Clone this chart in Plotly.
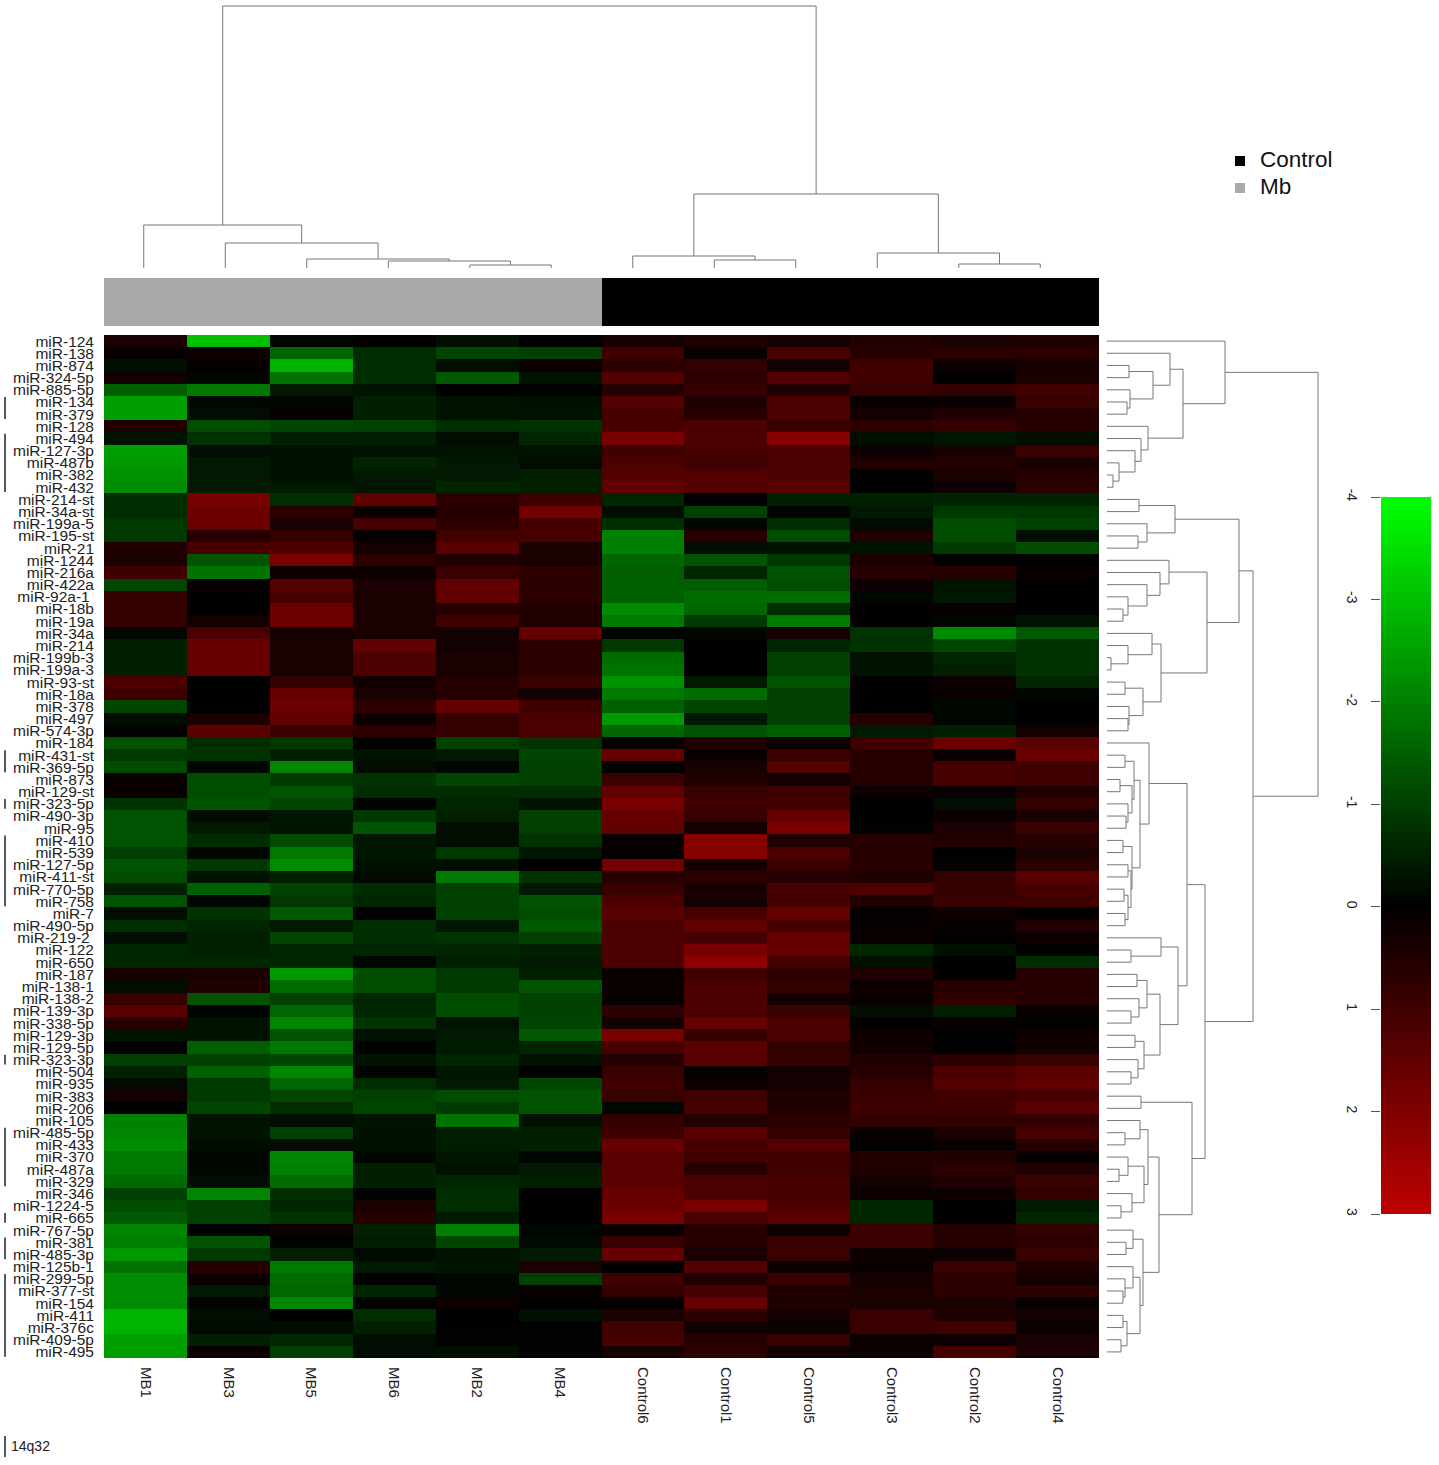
import numpy as np
import plotly.graph_objects as go

W, H = 1439, 1465

samples = ["MB1", "MB3", "MB5", "MB6", "MB2", "MB4",
           "Control6", "Control1", "Control5", "Control3", "Control2", "Control4"]
sample_group = [1, 1, 1, 1, 1, 1, 0, 0, 0, 0, 0, 0]  # 1 = Mb, 0 = Control
group_names = ["Control", "Mb"]
group_colors = ["#000000", "#a9a9a9"]

mirnas = ["miR-124", "miR-138", "miR-874", "miR-324-5p", "miR-885-5p", "miR-134", "miR-379",
          "miR-128", "miR-494", "miR-127-3p", "miR-487b", "miR-382", "miR-432", "miR-214-st",
          "miR-34a-st", "miR-199a-5", "miR-195-st", "miR-21", "miR-1244", "miR-216a", "miR-422a",
          "miR-92a-1\u00a0", "miR-18b", "miR-19a", "miR-34a", "miR-214", "miR-199b-3", "miR-199a-3",
          "miR-93-st", "miR-18a", "miR-378", "miR-497", "miR-574-3p", "miR-184", "miR-431-st",
          "miR-369-5p", "miR-873", "miR-129-st", "miR-323-5p", "miR-490-3p", "miR-95", "miR-410",
          "miR-539", "miR-127-5p", "miR-411-st", "miR-770-5p", "miR-758", "miR-7", "miR-490-5p",
          "miR-219-2\u00a0", "miR-122", "miR-650", "miR-187", "miR-138-1", "miR-138-2", "miR-139-3p",
          "miR-338-5p", "miR-129-3p", "miR-129-5p", "miR-323-3p", "miR-504", "miR-935", "miR-383",
          "miR-206", "miR-105", "miR-485-5p", "miR-433", "miR-370", "miR-487a", "miR-329", "miR-346",
          "miR-1224-5", "miR-665", "miR-767-5p", "miR-381", "miR-485-3p", "miR-125b-1", "miR-299-5p",
          "miR-377-st", "miR-154", "miR-411", "miR-376c", "miR-409-5p", "miR-495"]

# expression, one block per big row cluster
block_a = [
    [.4, -3.0, -.1, .05, -.25, 0, .35, .45, .3, .5, .4, .45],
    [.1, .2, -1.6, -.7, -1.1, -1.0, 1.0, .15, 1.1, .6, .7, .7],
    [-.25, .1, -2.8, -.7, -.2, .2, .7, .8, .3, 1.0, .2, .35],
    [.3, -.1, -1.8, -.7, -1.4, -.3, 1.3, .7, 1.25, 1.0, 0, .4],
    [-1.5, -1.9, -.4, -.3, 0, -.05, .6, .85, .5, .9, .8, 1.0],
    [-2.5, -.1, -.1, -.5, -.3, -.25, 1.3, .5, 1.2, .15, .15, .9],
    [-2.5, -.2, .1, -.5, -.3, -.3, 1.1, .6, 1.2, .3, .5, .6],
    [.5, -1.2, -1.1, -1.0, -.7, -.8, 1.1, 1.2, .9, .7, .8, .6],
    [-.3, -.8, -.5, -.5, -.2, -.6, 1.9, 1.2, 2.1, -.2, -.35, -.2],
    [-2.5, -.2, -.25, -.3, -.3, -.3, 1.0, 1.1, 1.2, .2, .35, .9],
    [-2.4, -.4, -.2, -.55, -.4, -.2, 1.2, 1.0, 1.2, .5, .6, .4],
    [-2.3, -.4, -.25, -.4, -.4, -.5, 1.3, 1.3, 1.2, .05, .4, .6],
    [-2.2, -.4, -.4, -.35, -.6, -.5, 1.5, 1.3, 1.4, 0, .2, .7],
]
block_b = [
    [-.7, 1.9, -.7, 1.5, .7, 1.0, -.6, 0, -.5, -.5, -.55, -.55],
    [-.7, 1.7, .7, .15, .6, 1.8, -.2, -1.0, -.1, -.4, -.9, -.9],
    [-.9, 1.7, .4, 1.1, .7, 1.1, -.7, -.1, -.7, -.15, -1.2, -1.0],
    [-.9, .6, .8, .1, 1.0, 1.1, -2.0, .6, -1.2, .5, -1.2, -.2],
    [.5, 1.1, 1.2, .3, 1.4, .4, -2.0, -.2, -.3, -.3, -.9, -1.2],
    [.4, -1.3, 1.9, .7, .5, .4, -1.6, -1.3, -.9, .4, -.05, 0],
    [1.0, -1.8, .2, .2, .9, .7, -1.5, -.6, -1.3, .6, .6, .15],
    [-1.1, .1, 1.3, .4, 1.5, .7, -1.5, -1.5, -1.2, .2, -.3, .02],
    [.8, 0, 1.1, .4, 1.5, .7, -1.5, -1.7, -1.7, -.1, -.35, .02],
    [.8, 0, 1.7, .4, .6, .5, -2.2, -1.6, -.7, .05, .1, .02],
    [.8, .3, 1.7, .4, 1.0, .5, -1.9, -.9, -1.9, .05, -.1, -.3],
    [-.1, 1.2, .3, .4, .3, 1.6, -.05, -.1, .35, -.8, -2.2, -1.4],
    [-.5, 1.6, .4, 1.5, .3, .7, -.9, 0, -.6, -.8, -1.1, -.8],
    [-.5, 1.6, .4, 1.2, .4, .7, -1.7, 0, -1.0, -.3, -.6, -.8],
    [-.5, 1.6, .4, 1.2, .4, .7, -1.8, 0, -1.0, -.3, -.5, -.8],
    [1.2, 0, .8, .25, .6, .9, -2.3, -.4, -1.3, .05, .2, -.6],
    [1.0, 0, 1.6, .4, .6, .3, -1.9, -1.7, -1.0, .05, .15, -.1],
    [-1.1, 0, 1.7, .7, 1.6, 1.0, -1.5, -1.1, -1.0, .05, -.1, 0],
    [-.2, .4, 1.5, .2, .8, 1.2, -2.4, -.4, -1.0, .6, -.1, 0],
    [-.05, 1.4, .9, .7, .8, 1.2, -1.6, -1.3, -1.5, -.4, -.5, .3],
]
block_c = [
    [-1.3, -.7, -.9, 0, -1.0, -.8, .1, .5, .2, 1.0, 1.7, 1.4],
    [-.9, -.8, -.5, -.3, -.4, -1.1, 1.6, .15, .9, .6, .15, 1.7],
    [-1.2, -.1, -2.1, -.2, -.1, -1.0, 0, .4, 1.3, .6, 1.1, 1.0],
    [.15, -1.2, -.9, -.8, -1.1, -1.0, .9, .5, .3, .6, 1.1, 1.0],
    [.15, -1.2, -1.3, -.7, -.7, -.7, 1.5, .9, 1.0, .2, .1, .5],
    [-.8, -1.3, -1.1, -.05, -.6, -.3, 1.9, 1.0, 1.0, 0, -.2, .8],
    [-1.3, -.2, -.35, -.9, -.5, -1.0, 1.6, .9, 1.6, 0, .15, .4],
    [-1.3, -.4, -.3, -1.3, -.2, -1.0, 1.5, .3, 1.9, -.05, .4, .9],
    [-1.3, -.7, -1.2, -.35, -.2, -.8, .1, 2.1, .5, .6, .55, .6],
    [-1.0, -.1, -1.9, -.35, -.9, -.35, .1, 2.1, 1.2, .6, 0, .4],
    [-1.3, -.9, -2.2, -.25, -.25, 0, 1.8, .3, .9, .6, .1, .7],
    [-1.2, -.3, -.5, -.15, -1.9, -.8, .6, .7, .6, .5, .8, 1.4],
    [-.5, -1.5, -1.0, -.7, -1.0, -.4, .9, .4, 1.1, 1.2, .8, 1.1],
    [-1.3, -.1, -.9, -.6, -1.0, -1.3, 1.2, .3, 1.1, .5, .9, 1.0],
    [-.2, -.8, -1.4, .05, -1.0, -1.2, 1.4, 1.1, 1.6, .1, .2, .05],
    [-.7, -.6, -.4, -.7, -.35, -1.4, 1.2, 1.5, 1.1, .1, .1, .5],
]
block_d = [
    [-.2, -.5, -1.1, -.7, -.8, -1.0, 1.2, 1.1, 1.6, .15, .05, .2],
    [-.6, -.5, -.6, -.6, -.6, -.5, 1.2, 1.9, 1.6, -.6, -.25, .05],
    [-.6, -.6, -.6, -.1, -.5, -.4, 1.2, 2.2, 1.1, -.25, 0, -.7],
    [.35, .4, -2.4, -1.2, -.9, -.5, .15, 1.0, .7, .5, 0, .6],
    [-.2, .5, -1.7, -1.2, -.9, -1.3, .15, 1.2, .8, .2, .6, .6],
    [.9, -1.3, -1.0, -.6, -1.2, -1.0, .1, 1.2, .3, .15, .8, .6],
    [1.4, -.05, -1.6, -.6, -1.2, -1.0, .7, 1.2, .9, -.2, -.5, .15],
    [.6, -.3, -2.1, -.8, -.3, -1.1, .3, 1.6, 1.2, .07, .1, .05],
    [-.3, -.3, -1.3, -.3, -.4, -1.4, 1.9, .8, 1.2, .25, 0, .25],
    [0, -1.5, -1.9, -.05, -.4, -.6, 1.1, 1.4, .8, .25, 0, .25],
    [-1.0, -1.0, -1.1, -.3, -.6, -.3, .6, 1.4, .8, .5, .7, .9],
    [-.5, -1.5, -2.1, -.05, -.35, 0, .9, .1, .3, .6, 1.2, 1.4],
    [-.15, -.9, -1.6, -.7, -.4, -1.1, 1.0, .2, .3, .8, 1.3, 1.5],
]
block_e = [
    [.3, -.9, -1.1, -1.0, -1.2, -1.3, .9, 1.0, .5, .9, 1.0, 1.1],
    [0, -1.1, -.7, -1.1, -.9, -1.3, -.1, 1.1, .5, 1.0, 1.0, 1.4],
    [-2.0, -.3, -.2, -.3, -1.8, -.3, .8, .6, .7, .8, .8, .8],
    [-2.1, -.3, -1.0, -.25, -.45, -.5, 1.0, 1.4, .8, .15, .4, 1.1],
    [-2.2, -.2, -.2, -.25, -.45, -.5, 1.6, 1.1, 1.3, 0, .15, .6],
    [-1.9, -.1, -2.1, -.1, -.35, -.1, 1.4, 1.0, 1.0, .5, .5, .1],
    [-1.9, -.1, -2.0, -.5, -.25, -.4, 1.4, .6, 1.0, .5, .7, .5],
    [-1.7, -.2, -1.7, -.5, -.6, -.5, 1.4, 1.2, 1.1, .3, .5, .9],
    [-1.0, -2.1, -.7, -.05, -.7, -.02, 1.6, 1.2, 1.1, .2, .2, .8],
    [-1.2, -1.0, -.6, .4, -.7, 0, 1.7, 1.9, 1.2, -.6, 0, -.4],
    [-1.4, -1.0, -.8, .6, -.4, 0, 1.9, 1.2, 1.4, -.6, 0, -.6],
    [-2.1, -.02, .2, -.5, -2.0, -.1, .15, .6, .2, .9, .6, .8],
    [-2.0, -1.3, -.05, -.45, -1.1, -.15, .9, .6, .9, .9, .6, .7],
    [-2.4, -.9, -.5, -.15, -.3, -.4, 1.6, .4, .9, .2, .2, .9],
    [-1.8, .6, -1.9, -.4, -.3, .4, 0, 1.3, .2, .15, .9, .5],
    [-2.2, .15, -1.7, -.02, -.1, -1.0, 1.0, .5, .9, .3, .7, .3],
    [-2.2, -.4, -1.6, -.6, -.1, .1, .8, 1.1, .5, .4, .7, .7],
    [-2.2, -.05, -2.1, -.07, .2, .02, .07, 1.6, .5, .4, .4, .1],
    [-2.8, -.2, .02, -.7, -.02, -.25, .4, .7, .3, .9, .5, .3],
    [-2.8, -.15, -.2, -.5, -.02, -.02, 1.0, .25, .2, .9, 1.0, .15],
    [-2.5, -.5, -.6, -.2, -.05, -.05, 1.1, .6, .9, .2, .2, .4],
    [-2.5, .2, -1.0, -.2, -.25, -.05, .35, .7, .3, .2, 1.1, .4],
]

# dendrograms as nested (height, left, right), ints are leaf positions
col_tree = (262,
            (43, 0, (25, 1, (9, 2, (7, 3, (3, 4, 5))))),
            (74, (12, 6, (8, 7, 8)), (15, 9, (4, 10, 11))))

tree_a = (118, 0, (76, (63, 1, (46, (22, 2, 3), (23, 4, (20, 5, 6)))),
                   (41, 7, (34, 8, (28, 9, (12, 10, (6, 11, 12)))))))
tree_b = (132, (68, (32, 13, 14), (40, 15, (31, 16, 17))),
          (100, (62, 18, (53, 19, (40, 20, (21, 21, (16, 22, 23))))),
           (54, (45, 24, (21, 25, (4, 26, 27))),
            (36, (18, 28, 29), (22, 30, (21, 31, 32))))))
tree_c = (42, 33, (33, (27, (18, 34, 35), (25, (13, 36, 37), (21, 38, (19, 39, 40)))),
                   (25, (16, 41, 42), (24, (21, 43, 44), (21, (17, 45, 46), (18, 47, 48))))))
tree_d = (71, (54, 49, (24, 50, 51)),
          (53, (40, (30, 52, 53), (32, 54, (24, 55, 56))),
           (37, (28, 57, 58), (31, 59, (24, 60, 61)))))
tree_e = (85, (34, 62, 63),
          (52, (41, (33, 64, (18, 65, 66)),
                (37, (21, 67, (12, 68, 69)), (25, 70, (14, 71, 72)))),
           (36, (26, 73, (19, 74, 75)),
            (33, (26, 76, (18, 77, (16, 78, 79))), (20, (16, 80, 81), (14, 82, 83))))))
row_tree = (211, tree_a, (146, tree_b, (98, (80, tree_c, tree_d), tree_e)))

# 14q32 members, (first row, last row)
locus_14q32 = [(5, 6), (8, 12), (34, 35), (38, 38), (41, 46), (59, 59),
               (65, 69), (72, 72), (74, 75), (77, 83)]

key_ticks = [-4, -3, -2, -1, 0, 1, 2, 3]
key_levels = np.arange(-4, 3.01, 0.05)

expression = np.array(block_a + block_b + block_c + block_d + block_e)
rows = list(range(len(mirnas)))
cols = list(range(len(samples)))
green_black_red = [[0, "#00ff00"], [0.5, "#000000"], [1, "#ff0000"]]
line_grey = "#777777"


def tree_lines(tree):
    """Bracket segments of a nested tree, returned as (pos, height) lists with None gaps."""
    pos, height = [], []

    def walk(node):
        if isinstance(node, int):
            return node, 0
        h, left, right = node
        p1, h1 = walk(left)
        p2, h2 = walk(right)
        pos.extend([p1, p1, p2, p2, None])
        height.extend([h1, h, h, h2, None])
        return (p1 + p2) / 2, h

    walk(tree)
    return pos, height


def xdom(left, right):
    return [left / W, right / W]


def ydom(top, bottom):
    return [1 - bottom / H, 1 - top / H]


fig = go.Figure()

fig.add_trace(go.Heatmap(x=cols, y=rows, z=expression, colorscale=green_black_red,
                         zmin=-4, zmax=4, showscale=False, xaxis="x", yaxis="y"))
fig.add_trace(go.Heatmap(x=cols, y=[0], z=[sample_group], colorscale=[[0, "#000000"], [1, "#a9a9a9"]],
                         zmin=0, zmax=1, showscale=False, xaxis="x2", yaxis="y2"))

col_pos, col_h = tree_lines(col_tree)
fig.add_trace(go.Scatter(x=col_pos, y=col_h, mode="lines", line=dict(color=line_grey, width=1),
                         showlegend=False, xaxis="x3", yaxis="y3"))
row_pos, row_h = tree_lines(row_tree)
fig.add_trace(go.Scatter(x=row_h, y=row_pos, mode="lines", line=dict(color=line_grey, width=1),
                         showlegend=False, xaxis="x4", yaxis="y4"))

fig.add_trace(go.Heatmap(x=[0], y=key_levels, z=[[v] for v in key_levels], colorscale=green_black_red,
                         zmin=-4, zmax=4, showscale=False, xaxis="x5", yaxis="y5"))

bar_x, bar_y = [], []
for first, last in locus_14q32:
    bar_x.extend([0, 0, None])
    bar_y.extend([first - 0.4, last + 0.4, None])
fig.add_trace(go.Scatter(x=bar_x, y=bar_y, mode="lines", line=dict(color="#222222", width=1.5),
                         showlegend=False, xaxis="x6", yaxis="y6"))

# group legend, drawn on its own little axis so the row spacing can follow the picture
fig.add_trace(go.Scatter(x=[0, 0], y=[0, 1], mode="markers", cliponaxis=False, showlegend=False,
                         marker=dict(symbol="square", size=10, color=group_colors),
                         xaxis="x7", yaxis="y7"))
fig.add_trace(go.Scatter(x=[1, 1], y=[0, 1], mode="text", text=group_names, cliponaxis=False,
                         textposition="middle right", showlegend=False,
                         textfont=dict(size=22.5, color="#111111"), xaxis="x7", yaxis="y7"))

hidden = dict(visible=False)
heat_x = xdom(104, 1099)
fig.update_layout(
    width=W, height=H, autosize=False,
    margin=dict(l=0, r=0, t=0, b=0, autoexpand=False),
    paper_bgcolor="white", plot_bgcolor="white",
    showlegend=False,
    font=dict(family="Liberation Sans, Arial, sans-serif", color="#222222"),
    xaxis=dict(domain=heat_x, range=[-0.5, 11.5], tickvals=cols, ticktext=samples, tickangle=90,
               ticks="", showgrid=False, zeroline=False, showline=False, side="bottom",
               ticklabelstandoff=8, tickfont=dict(size=15), anchor="y"),
    yaxis=dict(domain=ydom(335, 1358), range=[83.5, -0.5], tickvals=rows, ticktext=mirnas,
               ticks="", showgrid=False, zeroline=False, showline=False,
               ticklabelstandoff=9, tickfont=dict(size=15.5), anchor="x"),
    xaxis2=dict(domain=heat_x, range=[-0.5, 11.5], anchor="y2", **hidden),
    yaxis2=dict(domain=ydom(278, 326), anchor="x2", **hidden),
    xaxis3=dict(domain=xdom(103, 1081), range=[-0.5, 11.5], anchor="y3", **hidden),
    yaxis3=dict(domain=ydom(0, 268), range=[0, 268], anchor="x3", **hidden),
    xaxis4=dict(domain=xdom(1107, 1337), range=[0, 230], anchor="y4", **hidden),
    yaxis4=dict(domain=ydom(335, 1358), range=[83.5, -0.5], anchor="x4", **hidden),
    xaxis5=dict(domain=xdom(1381, 1431), range=[-0.5, 0.5], anchor="y5", **hidden),
    yaxis5=dict(domain=ydom(497, 1214), range=[3, -4], tickvals=key_ticks,
                ticktext=[str(t) for t in key_ticks], tickangle=90, ticks="outside", ticklen=9,
                tickcolor="#555555", showgrid=False, zeroline=False, showline=False,
                ticklabelstandoff=7, tickfont=dict(size=14), anchor="x5"),
    xaxis6=dict(domain=xdom(0, 10), range=[-5, 5], anchor="y6", **hidden),
    yaxis6=dict(domain=ydom(335, 1358), range=[83.5, -0.5], anchor="x6", **hidden),
    xaxis7=dict(domain=xdom(1240, 1260), range=[0, 1], anchor="y7", **hidden),
    yaxis7=dict(domain=ydom(161, 188), range=[1, 0], anchor="x7", **hidden),
)

# 14q32 key, bottom left
fig.add_shape(type="line", xref="paper", yref="paper", x0=5 / W, x1=5 / W,
              y0=1 - 1436 / H, y1=1 - 1457 / H, line=dict(color="#222222", width=1.5))
fig.add_annotation(text="14q32", xref="paper", yref="paper", x=9 / W, y=1 - 1446 / H,
                   xanchor="left", yanchor="middle", showarrow=False, font=dict(size=14))

fig.write_html("out.html", config=dict(displayModeBar=False),
               post_script="document.body.style.margin='0';")
